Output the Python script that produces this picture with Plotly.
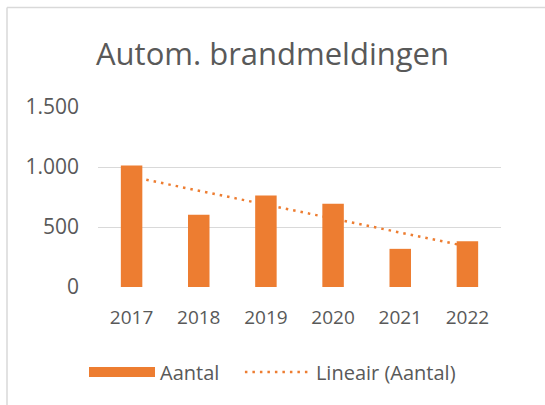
import numpy as np
import plotly.graph_objects as go

years = ["2017", "2018", "2019", "2020", "2021", "2022"]
aantal = [1012, 602, 762, 693, 318, 382]
y_ticks = [0, 500, 1000, 1500]
y_tick_labels = ["0", "500", "1.000", "1.500"]

ORANGE = "#ED7D31"
TEXT = "#595959"
GRID = "#D9D9D9"
FONT = "Open Sans"

# linear trendline (least squares) computed from the data
xi = np.arange(1, len(aantal) + 1)
slope, intercept = np.polyfit(xi, aantal, 1)
trend = list(slope * xi + intercept)

fig = go.Figure()

# trendline on main axes (drawn below the bars)
fig.add_trace(go.Scatter(
    x=years, y=trend, mode="lines", name="Lineair (Aantal)",
    line=dict(color=ORANGE, width=2.5, dash="2.5px,5px"),
    xaxis="x", yaxis="y", legendrank=2,
))

# legend-only entry with a wide swatch for the bars
fig.add_trace(go.Scatter(
    x=[None], y=[None], mode="lines", name="Aantal\u00a0\u00a0\u00a0",
    line=dict(color=ORANGE, width=13),
    xaxis="x", yaxis="y", legendrank=1,
))

# bars on an overlaid subplot so they are drawn above the trendline
fig.add_trace(go.Bar(
    x=years, y=aantal, name="Aantal", marker=dict(color=ORANGE, line=dict(width=0)),
    width=0.32, xaxis="x2", yaxis="y2", showlegend=False,
))

axis_common = dict(range=[-0.5, 5.5], type="category", categoryorder="array",
                   categoryarray=years)

fig.update_layout(
    width=545, height=405,
    margin=dict(l=98, r=44, t=107, b=118),
    paper_bgcolor="white", plot_bgcolor="white",
    font=dict(family=FONT, color=TEXT, size=19),
    title=dict(text="Autom. brandmeldingen", x=0.5, xref="container",
               y=1 - 54 / 405, yref="container", yanchor="middle", xanchor="center",
               font=dict(family=FONT, size=31, color=TEXT)),
    xaxis=dict(**axis_common, showgrid=False, zeroline=False, showline=False,
               ticks="", tickfont=dict(size=19, color=TEXT), ticklabelstandoff=17),
    yaxis=dict(range=[0, 1500], tickvals=y_ticks, ticktext=y_tick_labels,
               showgrid=True, gridcolor=GRID, gridwidth=1, zeroline=False,
               showline=False, ticks="", tickfont=dict(size=21, color=TEXT),
               ticklabelstandoff=18),
    xaxis2=dict(**axis_common, overlaying="x", showgrid=False, zeroline=False,
                showticklabels=False, showline=False, ticks=""),
    yaxis2=dict(range=[0, 1500], overlaying="y", showgrid=False, zeroline=False,
                showticklabels=False, showline=False, ticks=""),
    showlegend=True,
    legend=dict(orientation="h", x=0.5, xref="container", xanchor="center",
                y=1 - 372 / 405, yref="container", yanchor="middle",
                font=dict(size=20, color=TEXT), itemwidth=66,
                traceorder="normal", bgcolor="rgba(0,0,0,0)"),
)

# chart border (top and left edges visible in the crop)
fig.add_shape(type="line", xref="paper", yref="paper",
              x0=(7 - 98) / 403, x1=(7 - 98) / 403, y0=(287.5 - 8) / 180, y1=-1,
              line=dict(color=GRID, width=1.5))
fig.add_shape(type="line", xref="paper", yref="paper",
              x0=(7 - 98) / 403, x1=2, y0=(287.5 - 8) / 180, y1=(287.5 - 8) / 180,
              line=dict(color=GRID, width=1.5))

fig.write_html("out.html", config={"displayModeBar": False},
               post_script="document.body.style.margin='0';document.body.style.overflow='hidden';")
